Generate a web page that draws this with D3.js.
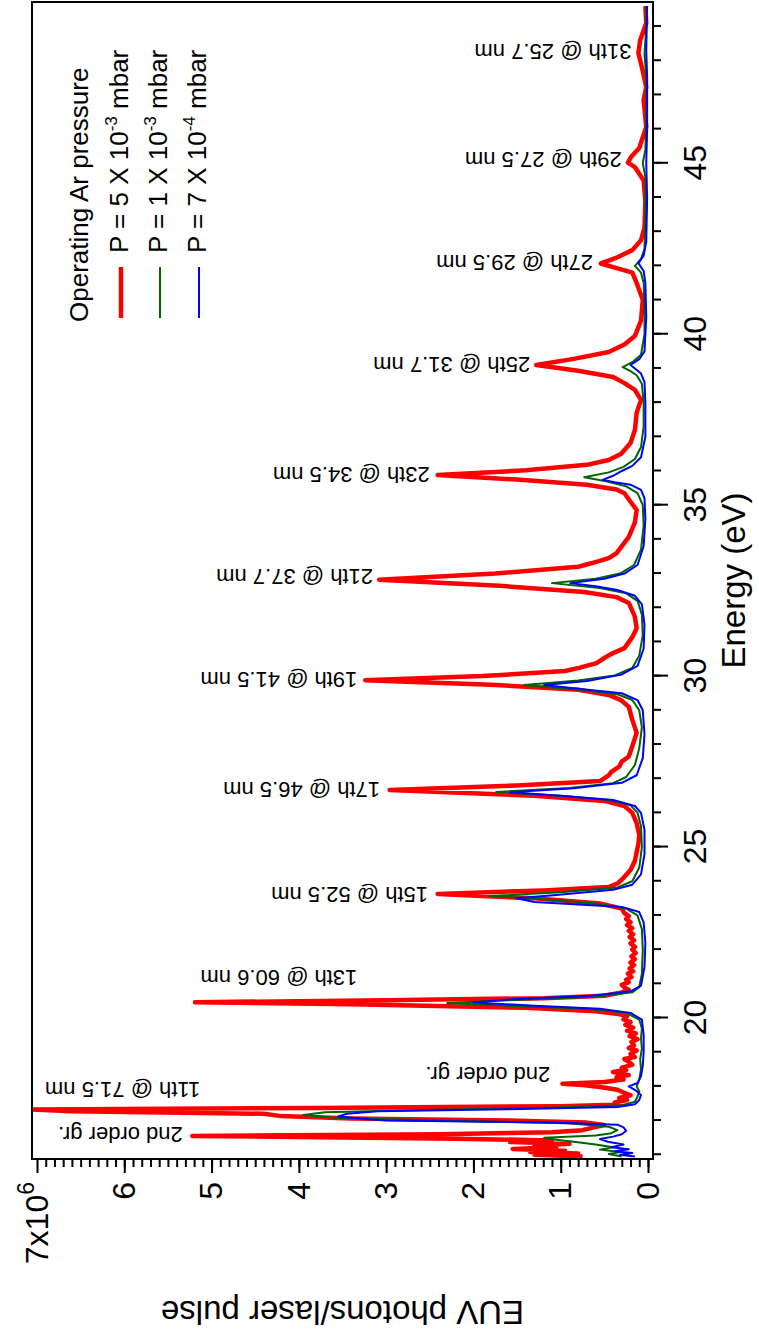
<!DOCTYPE html>
<html>
<head>
<meta charset="utf-8">
<script src="https://cdn.jsdelivr.net/npm/d3@7"></script>
<style>
  body { margin: 0; background: #fff; }
  svg text { font-family: "Liberation Sans", Arial, sans-serif; fill: #000; }
</style>
</head>
<body>
<svg id="chart" width="759" height="1334"></svg>
<script>
//
// data: [energy (eV), EUV photons per pulse (x10^6)]
//
var red = [[15.95,0.75],[16.0,1.3],[16.04,0.8],[16.08,1.35],[16.12,0.95],[16.17,1.55],[16.22,1.05],[16.27,1.3],[16.32,0.9],[16.37,1.58],[16.42,1.1],[16.47,2.2],[16.52,4.0],[16.55,5.22],[16.6,2.4],[16.66,1.1],[16.72,0.75],[16.8,0.62],[16.87,0.5],[16.94,0.7],[17.0,1.6],[17.06,3.4],[17.13,4.2],[17.2,4.4],[17.27,6.6],[17.32,7.05],[17.37,3.8],[17.42,1.0],[17.47,0.3],[17.53,0.38],[17.6,0.24],[17.66,0.33],[17.74,0.2],[17.82,0.28],[17.9,0.35],[17.98,0.55],[18.04,0.75],[18.08,0.98],[18.13,0.5],[18.2,0.28],[18.27,0.36],[18.33,0.22],[18.42,0.4],[18.48,0.25],[18.55,0.3],[18.63,0.18],[18.72,0.22],[18.8,0.27],[18.86,0.15],[18.95,0.2],[19.05,0.13],[19.12,0.22],[19.2,0.16],[19.3,0.19],[19.38,0.12],[19.47,0.21],[19.55,0.14],[19.63,0.24],[19.72,0.17],[19.8,0.26],[19.88,0.2],[19.96,0.28],[20.05,0.24],[20.12,0.34],[20.2,0.6],[20.3,1.4],[20.4,3.4],[20.46,5.19],[20.52,3.0],[20.58,1.2],[20.65,0.5],[20.75,0.3],[20.82,0.22],[20.9,0.27],[20.97,0.3],[21.05,0.22],[21.12,0.25],[21.2,0.19],[21.3,0.23],[21.37,0.17],[21.45,0.21],[21.55,0.16],[21.62,0.2],[21.72,0.15],[21.8,0.19],[21.9,0.14],[22.0,0.18],[22.08,0.15],[22.18,0.2],[22.27,0.16],[22.37,0.21],[22.45,0.17],[22.55,0.22],[22.63,0.18],[22.72,0.24],[22.8,0.2],[22.9,0.25],[22.98,0.22],[23.07,0.27],[23.2,0.3],[23.35,0.55],[23.5,1.3],[23.63,2.41],[23.73,1.2],[23.83,0.45],[23.95,0.34],[24.1,0.28],[24.33,0.2],[24.6,0.15],[24.85,0.13],[25.1,0.11],[25.35,0.1],[25.7,0.13],[26.0,0.18],[26.2,0.27],[26.35,0.5],[26.5,1.3],[26.67,2.96],[26.8,1.5],[26.93,0.55],[27.1,0.45],[27.2,0.42],[27.35,0.33],[27.5,0.3],[27.65,0.22],[27.95,0.18],[28.34,0.13],[28.72,0.18],[29.1,0.22],[29.3,0.31],[29.45,0.45],[29.6,0.8],[29.75,1.8],[29.88,3.24],[30.0,1.9],[30.15,0.95],[30.25,0.78],[30.38,0.59],[30.53,0.5],[30.65,0.42],[30.82,0.27],[31.14,0.18],[31.4,0.13],[31.73,0.15],[32.14,0.22],[32.31,0.36],[32.46,0.73],[32.64,1.7],[32.82,3.08],[33.0,1.75],[33.2,0.8],[33.3,0.65],[33.45,0.45],[33.6,0.36],[34.07,0.22],[34.5,0.15],[34.86,0.13],[35.1,0.2],[35.35,0.27],[35.46,0.36],[35.6,0.7],[35.75,1.5],[35.88,2.41],[36.02,1.4],[36.18,0.7],[36.32,0.45],[36.5,0.31],[36.82,0.2],[37.2,0.15],[37.7,0.13],[38.08,0.08],[38.37,0.15],[38.57,0.27],[38.75,0.4],[38.93,0.8],[39.1,1.28],[39.28,0.85],[39.48,0.45],[39.7,0.27],[39.95,0.15],[40.4,0.08],[41.0,0.06],[41.5,0.13],[41.8,0.18],[41.95,0.38],[42.07,0.54],[42.25,0.35],[42.46,0.18],[42.75,0.08],[43.13,0.04],[43.9,0.03],[44.5,0.05],[44.89,0.15],[45.02,0.23],[45.2,0.19],[45.45,0.1],[45.68,0.07],[46.06,0.02],[46.85,0.05],[47.23,0.02],[47.81,0.07],[48.22,0.11],[48.6,0.09],[49.1,0.02],[49.6,0.03]]

var green = [[15.95,0.3],[16.02,0.45],[16.08,0.32],[16.15,0.55],[16.22,0.4],[16.3,0.6],[16.38,0.85],[16.45,1.1],[16.5,1.19],[16.56,0.6],[16.63,0.42],[16.72,0.35],[16.82,0.45],[16.92,0.9],[17.0,2.4],[17.08,3.6],[17.16,3.95],[17.24,3.7],[17.31,2.6],[17.38,1.0],[17.45,0.3],[17.55,0.15],[17.7,0.12],[17.85,0.1],[18.0,0.13],[18.2,0.1],[18.5,0.08],[18.8,0.09],[19.1,0.07],[19.4,0.08],[19.7,0.07],[19.95,0.1],[20.15,0.25],[20.27,0.7],[20.36,1.6],[20.44,2.3],[20.52,1.6],[20.62,0.6],[20.75,0.18],[20.9,0.1],[21.3,0.07],[22.0,0.06],[22.6,0.07],[23.0,0.12],[23.2,0.25],[23.35,0.6],[23.47,1.2],[23.57,1.81],[23.68,1.0],[23.82,0.35],[24.0,0.18],[24.4,0.1],[25.0,0.07],[25.6,0.08],[26.0,0.12],[26.22,0.2],[26.38,0.45],[26.5,1.0],[26.61,1.74],[26.73,0.9],[26.87,0.4],[27.05,0.25],[27.4,0.15],[27.9,0.1],[28.5,0.07],[29.0,0.1],[29.3,0.18],[29.47,0.35],[29.6,0.8],[29.74,1.42],[29.87,0.8],[30.02,0.38],[30.24,0.18],[30.6,0.1],[31.2,0.06],[31.8,0.07],[32.2,0.12],[32.42,0.25],[32.58,0.55],[32.72,1.1],[32.85,0.6],[33.0,0.32],[33.25,0.16],[33.7,0.08],[34.4,0.05],[35.0,0.06],[35.35,0.12],[35.55,0.25],[35.7,0.48],[35.82,0.73],[35.96,0.45],[36.12,0.28],[36.35,0.15],[36.7,0.08],[37.3,0.05],[38.0,0.05],[38.55,0.07],[38.8,0.13],[38.92,0.2],[39.04,0.29],[39.2,0.17],[39.4,0.08],[40.0,0.04],[40.8,0.04],[41.5,0.05],[41.8,0.08],[42.0,0.15],[42.2,0.08],[42.5,0.04],[43.5,0.03],[44.6,0.03],[45.0,0.06],[45.4,0.03],[46.5,0.02],[47.5,0.02],[48.2,0.04],[49.0,0.02],[49.6,0.02]]

var blue = [[15.95,0.15],[16.0,0.32],[16.05,0.18],[16.1,0.38],[16.16,0.22],[16.22,0.42],[16.3,0.28],[16.38,0.46],[16.46,0.55],[16.53,0.4],[16.6,0.3],[16.7,0.25],[16.8,0.28],[16.88,0.35],[16.95,1.2],[17.0,3.0],[17.06,3.3],[17.12,3.55],[17.2,3.45],[17.27,3.1],[17.33,1.6],[17.4,0.35],[17.48,0.15],[17.6,0.1],[17.75,0.08],[17.9,0.15],[18.0,0.22],[18.1,0.12],[18.3,0.08],[18.6,0.06],[19.0,0.05],[19.5,0.05],[19.95,0.07],[20.15,0.2],[20.27,0.55],[20.36,1.3],[20.45,2.0],[20.55,1.55],[20.65,0.65],[20.78,0.2],[20.95,0.08],[21.5,0.04],[22.2,0.03],[22.8,0.05],[23.1,0.1],[23.25,0.3],[23.39,1.3],[23.5,1.51],[23.6,1.05],[23.75,0.4],[23.9,0.18],[24.2,0.08],[24.8,0.04],[25.5,0.04],[26.0,0.08],[26.2,0.15],[26.38,0.4],[26.5,1.0],[26.6,1.58],[26.72,0.85],[26.88,0.3],[27.1,0.13],[27.6,0.06],[28.3,0.04],[29.0,0.06],[29.3,0.12],[29.5,0.3],[29.63,0.8],[29.74,1.19],[29.86,0.7],[30.05,0.3],[30.3,0.12],[30.8,0.05],[31.5,0.04],[32.1,0.07],[32.35,0.15],[32.52,0.35],[32.63,0.6],[32.72,0.89],[32.85,0.5],[33.0,0.27],[33.25,0.12],[33.8,0.05],[34.6,0.03],[35.2,0.04],[35.45,0.08],[35.6,0.2],[35.67,0.38],[35.74,0.52],[35.86,0.4],[36.0,0.3],[36.15,0.18],[36.4,0.08],[37.0,0.03],[38.0,0.03],[38.6,0.04],[38.85,0.08],[39.1,0.2],[39.27,0.1],[39.5,0.04],[40.5,0.02],[41.5,0.03],[41.85,0.05],[42.08,0.11],[42.3,0.05],[42.7,0.02],[44.0,0.01],[45.0,0.02],[46.0,0.01],[47.5,0.01],[48.3,0.02],[49.6,0.01]]

// peak labels: text, energy it sits at, value where the text starts
var peakLabels = [
  ['2nd order gr.', 16.58, 5.33],
  ['11th @ 71.5 nm', 17.9, 5.13],
  ['2nd order gr.', 18.33, 1.12],
  ['13th @ 60.6 nm', 21.17, 3.33],
  ['15th @ 52.5 nm', 23.6, 2.52],
  ['17th @ 46.5 nm', 26.67, 3.07],
  ['19th @ 41.5 nm', 29.89, 3.33],
  ['21th @ 37.7 nm', 32.9, 3.15],
  ['23th @ 34.5 nm', 35.9, 2.50],
  ['25th @ 31.7 nm', 39.11, 1.35],
  ['27th @ 29.5 nm', 42.1, 0.63],
  ['29th @ 27.5 nm', 45.1, 0.30],
  ['31th @ 25.7 nm', 48.27, 0.19]
]

var xMajor = [20, 25, 30, 35, 40, 45]
var xMinor = d3.range(16, 50, 1)
var yMajor = [0, 1, 2, 3, 4, 5, 6, 7]
var yMinor = d3.range(0, 70, 1).map(function(d) { return d / 10 })

var legendTitle = 'Operating Ar pressure'
var legendItems = [
  {mant: 'P = 5 X 10', exp: '-3', color: '#ff0000', width: 4.5, data: red},
  {mant: 'P = 1 X 10', exp: '-3', color: '#006400', width: 2, data: green},
  {mant: 'P = 7 X 10', exp: '-4', color: '#0000ff', width: 2, data: blue}
]

//
// chart is laid out unrotated (1334 wide, 759 tall), then turned 90 deg ccw
//
var W = 1334
var box = {left: 175, right: 1332, top: 32, bottom: 653}

var svg = d3.select('#chart')
var g = svg.append('g').attr('transform', 'translate(0,' + W + ') rotate(-90)')

var x = d3.scaleLinear().domain([20, 45]).range([316, 1170.7])
var y = d3.scaleLinear().domain([0, 7]).range([648, 37])

svg.append('defs').append('clipPath').attr('id', 'plotclip')
  .append('rect')
  .attr('x', box.left).attr('y', box.top)
  .attr('width', box.right - box.left).attr('height', box.bottom - box.top)

// traces
var line = d3.line()
  .x(function(d) { return x(d[0]) })
  .y(function(d) { return y(d[1]) })

var traces = g.append('g').attr('clip-path', 'url(#plotclip)')
legendItems.forEach(function(s) {
  traces.append('path')
    .attr('d', line(s.data))
    .attr('fill', 'none')
    .attr('stroke', s.color)
    .attr('stroke-width', s.width)
    .attr('stroke-linejoin', 'round')
})

// frame
g.append('rect')
  .attr('x', box.left).attr('y', box.top)
  .attr('width', box.right - box.left).attr('height', box.bottom - box.top)
  .attr('fill', 'none').attr('stroke', '#000').attr('stroke-width', 2)

// energy axis
var xMin = g.append('g').attr('transform', 'translate(0,' + box.bottom + ')')
  .call(d3.axisBottom(x).tickValues(xMinor).tickSize(8).tickFormat(''))
var xMaj = g.append('g').attr('transform', 'translate(0,' + box.bottom + ')')
  .call(d3.axisBottom(x).tickValues(xMajor).tickSize(15).tickPadding(15))
xMaj.selectAll('text').style('font-size', '32px')

// photon axis
var yMin = g.append('g').attr('transform', 'translate(' + box.left + ',0)')
  .call(d3.axisLeft(y).tickValues(yMinor).tickSize(8).tickFormat(''))
var yMaj = g.append('g').attr('transform', 'translate(' + box.left + ',0)')
  .call(d3.axisLeft(y).tickValues(yMajor).tickSize(14).tickPadding(9).tickFormat(d3.format('d')))
yMaj.selectAll('text').style('font-size', '32px')
yMaj.selectAll('.tick').filter(function(d) { return d === 7 }).select('text')
  .text(null)
  .call(function(t) {
    t.append('tspan').text('7x10')
    t.append('tspan').attr('dy', -14).style('font-size', '23px').text('6')
  })

;[xMin, xMaj, yMin, yMaj].forEach(function(a) {
  a.select('.domain').remove()
  a.selectAll('line').attr('stroke', '#000').attr('stroke-width', 2)
})

// axis titles
g.append('text')
  .attr('x', (box.left + box.right) / 2).attr('y', 745)
  .attr('text-anchor', 'middle')
  .style('font-size', '33px')
  .text('Energy (eV)')

g.append('text')
  .attr('transform', 'translate(33,' + (box.top + box.bottom) / 2 + ') rotate(-90)')
  .attr('text-anchor', 'middle')
  .style('font-size', '33px')
  .text('EUV photons/laser pulse')

// peak labels
g.append('g').selectAll('text')
  .data(peakLabels)
  .enter().append('text')
  .attr('transform', function(d) { return 'translate(' + x(d[1]) + ',' + y(d[2]) + ') rotate(-90)' })
  .attr('dy', '0.35em')
  .style('font-size', '22px')
  .text(function(d) { return d[0] })

// legend
var leg = g.append('g')
leg.append('text')
  .attr('x', 1012).attr('y', 88)
  .style('font-size', '26px')
  .text(legendTitle)

legendItems.forEach(function(s, i) {
  var v = 128 + i * 39
  leg.append('line')
    .attr('x1', 1016).attr('x2', 1067)
    .attr('y1', v - 7).attr('y2', v - 7)
    .attr('stroke', s.color)
    .attr('stroke-width', s.width)
  var t = leg.append('text')
    .attr('x', 1081).attr('y', v)
    .style('font-size', '26px')
  t.append('tspan').text(s.mant)
  t.append('tspan').attr('dy', -11).style('font-size', '17px').text(s.exp)
  t.append('tspan').attr('dy', 11).text(' mbar')
})
</script>
</body>
</html>
